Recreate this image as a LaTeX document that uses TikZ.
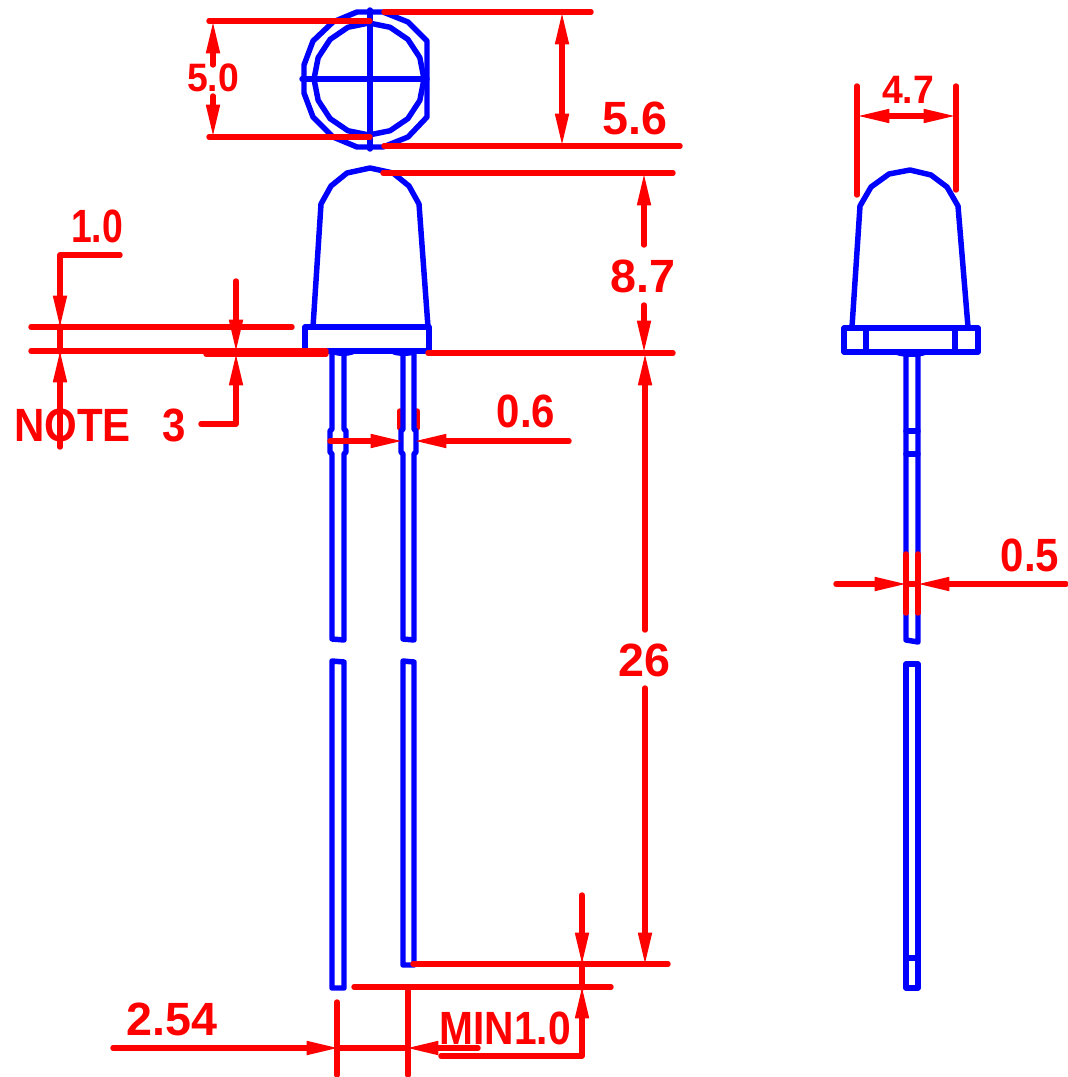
\documentclass[tikz,border=0pt]{standalone}
\usepackage{fontspec}
\setmainfont{Liberation Sans}
\usetikzlibrary{arrows.meta}
\definecolor{ledblue}{RGB}{0,0,255}
\definecolor{dimred}{RGB}{255,0,0}
\tikzset{
  ledline/.style={draw=ledblue, line width=4.1pt, line join=round, line cap=round},
  dimline/.style={draw=dimred, line width=4.1pt, line join=round, line cap=round},
  dimtext/.style={text=dimred, inner sep=0pt, font=\bfseries\fontsize{35}{35}\selectfont},
  wordtext/.style={dimtext, xscale=0.9, transform shape},
  narrowtext/.style={dimtext, xscale=0.8, transform shape},
  smalltext/.style={dimtext, xscale=0.8, yscale=0.85, transform shape}
}
\begin{document}
\begin{tikzpicture}[x=0.75pt, y=-0.75pt, >={Triangle[length=25pt,width=9.5pt]}]
  \useasboundingbox (0,0) rectangle (1067,1077);
  % Extension lines, front view
  \draw[dimline] (400,411) -- (400,428);
  \draw[dimline] (417,411) -- (417,428);
  % Top view of the lens
  \draw[ledline] (357,12) -- (383,12) -- (408,22) -- (427,41) -- (427,117) -- (408,137) -- (383,147) -- (357,147) -- (333,137) -- (313,117) -- (304,93) -- (304,65) -- (313,41) -- (333,22) -- cycle;
  \draw[ledline] plot[samples=17, domain=90:450] ({369+55*cos(\x)},{79+56*sin(\x)});
  \draw[ledline] (302,79) -- (427,79);
  \draw[ledline] (370,10) -- (370,149);
  % Front view, body
  \draw[ledline] (313,327) -- (321,204) -- (331,186) -- (347,173) -- (370,168) -- (393,173) -- (409,186) -- (419,204) -- (428,327);
  \draw[ledline] (305,327) rectangle (429,351);
  \fill[ledblue] (329,351) arc[start angle=180, end angle=360, x radius=14, y radius=-5] -- cycle;
  \fill[ledblue] (389,351) arc[start angle=180, end angle=360, x radius=15, y radius=-5] -- cycle;
  % Front view, left lead
  \draw[ledline] (332,351) -- (332,429) -- (330,431) -- (330,452) -- (332,454) -- (332,639) -- (344,640) -- (344,454) -- (346,452) -- (346,431) -- (344,429) -- (344,351);
  \draw[ledline] (332,661) -- (332,988) -- (344,988) -- (344,662) -- cycle;
  % Front view, right lead
  \draw[ledline] (403,351) -- (403,429) -- (401,431) -- (401,452) -- (403,454) -- (403,639) -- (414,640) -- (414,454) -- (416,452) -- (416,431) -- (414,429) -- (414,351);
  \draw[ledline] (403,661) -- (403,965) -- (414,965) -- (414,662) -- cycle;
  % Side view, body
  \draw[ledline] (852,327) -- (860,206) -- (871,187) -- (889,174) -- (910,170) -- (931,175) -- (947,187) -- (958,206) -- (968,327);
  \draw[ledline] (844,328) rectangle (978,352);
  \draw[ledline] (866,328) -- (866,352);
  \draw[ledline] (955,328) -- (955,352);
  \fill[ledblue] (893,352) arc[start angle=180, end angle=360, x radius=18, y radius=-5] -- cycle;
  % Side view, lead
  \draw[ledline] (906,352) -- (906,640) -- (918,642) -- (918,352);
  \draw[ledline] (906,431) -- (918,431);
  \draw[ledline] (906,454) -- (918,454);
  \draw[ledline] (906,664) -- (906,988) -- (918,988) -- (918,664) -- cycle;
  \draw[ledline] (906,958) -- (918,958);
  % Dimension 5.0
  \draw[dimline] (209,21) -- (370,21);
  \draw[dimline] (209,137) -- (370,137);
  \draw[dimline, ->] (213,65) -- (213,20);
  \draw[dimline, ->] (213,96) -- (213,138);
  \node[smalltext] (dimfive) at (213,78) {5.0};
  % Dimension 5.6
  \draw[dimline] (384,12) -- (591,12);
  \draw[dimline] (384,146) -- (680,146);
  \draw[dimline, <->] (562,11) -- (562,147);
  \node[dimtext] (dimfivesix) at (635,118) {5.6};
  % Dimensions 8.7 and 26
  \draw[dimline] (383,173) -- (673,173);
  \draw[dimline] (428,353) -- (673,353);
  \draw[dimline, ->] (644,245) -- (644,172);
  \draw[dimline, ->] (644,305) -- (644,354);
  \node[dimtext] (dimeight) at (643,276) {8.7};
  \draw[dimline, ->] (645,630) -- (645,352);
  \draw[dimline, ->] (645,688) -- (645,966);
  \node[dimtext] (dimlead) at (644,660) {26};
  % Flange thickness and note
  \draw[dimline] (31,327) -- (292,327);
  \draw[dimline] (31,351) -- (326,351);
  \draw[dimline] (206,354) -- (326,354);
  \draw[dimline, ->] (120,255) -- (60,255) -- (60,329);
  \draw[dimline] (60,326) -- (60,352);
  \draw[dimline, ->] (60,447) -- (60,349);
  \node[narrowtext] (dimflange) at (97,226) {1.0};
  \draw[dimline, ->] (236,281) -- (236,353);
  \draw[dimline, ->] (201,424) -- (236,424) -- (236,352);
  \node[wordtext, anchor=west] (noteword) at (14,425) {NOTE\hspace{26pt}3};
  % Dimension 0.6
  \draw[dimline, ->] (330,441) -- (404,441);
  \draw[dimline, ->] (569,441) -- (413,441);
  \node[dimtext, xscale=0.9, transform shape] (dimwidth) at (526,411) {0.6};
  % Bottom dimensions
  \draw[dimline] (413,964) -- (668,964);
  \draw[dimline] (354,987) -- (611,987);
  \draw[dimline, ->] (582,895) -- (582,966);
  \draw[dimline] (582,963) -- (582,988);
  \draw[dimline, ->] (441,1056) -- (582,1056) -- (582,985);
  \node[wordtext, xscale=0.97] (dimmin) at (505,1028) {MIN1.0};
  \draw[dimline] (337,1002) -- (337,1075);
  \draw[dimline] (408,987) -- (408,1075);
  \draw[dimline, ->] (113,1048) -- (340,1048);
  \draw[dimline, ->] (478,1048) -- (405,1048);
  \draw[dimline] (337,1048) -- (408,1048);
  \node[dimtext] (dimpitch) at (172,1019) {2.54};
  % Dimension 4.7
  \draw[dimline] (857,86) -- (857,195);
  \draw[dimline] (956,86) -- (956,190);
  \draw[dimline, <->] (856,116) -- (957,116);
  \node[smalltext] (dimside) at (908,90) {4.7};
  % Dimension 0.5
  \draw[dimline] (906,554) -- (906,613);
  \draw[dimline] (918,554) -- (918,613);
  \draw[dimline, ->] (836,584) -- (908,584);
  \draw[dimline, ->] (1066,584) -- (916,584);
  \draw[dimline] (906,584) -- (918,584);
  \node[dimtext, xscale=0.9, transform shape] (dimthin) at (1030,555) {0.5};
\end{tikzpicture}
\end{document}
